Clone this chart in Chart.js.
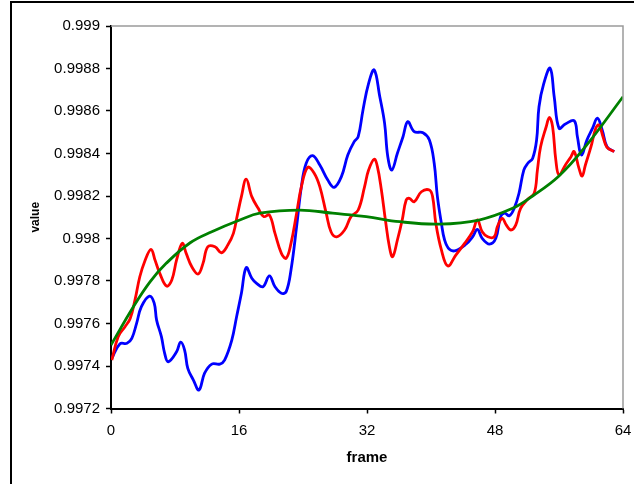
<!DOCTYPE html>
<html>
<head>
<meta charset="utf-8">
<script src="https://cdn.jsdelivr.net/npm/chart.js@4/dist/chart.umd.min.js"></script>
<style>
  html, body { margin: 0; padding: 0; background: #fff; }
  #wrap { width: 634px; height: 484px; position: relative; }
</style>
</head>
<body>
<div id="wrap"><canvas id="chart"></canvas></div>
<script>
    // values
    var xTicks = [0, 16, 32, 48, 64];
    var yTicks = [0.9972, 0.9974, 0.9976, 0.9978, 0.998, 0.9982, 0.9984, 0.9986, 0.9988, 0.999];

    var blueFrames = [0.1, 1.1, 2.0, 2.6, 3.2, 3.8, 4.8, 5.4, 5.7, 6.3, 6.7, 7.15, 8.2, 8.7, 9.2, 9.6, 10.3, 11.0, 11.7, 12.6,
        13.6, 14.2, 15.1, 15.7, 16.3, 16.9, 17.6, 18.2, 19.0, 19.8, 20.5, 21.3, 21.9, 22.5, 23.2, 23.8, 24.4, 25.2, 26.1, 27.1,
        27.9, 28.8, 29.6, 30.4, 30.9, 31.5, 32.2, 32.9, 33.6, 34.2, 34.6, 35.1, 35.8, 36.5, 37.1, 37.9, 39.0, 39.8, 40.4, 40.8,
        41.3, 41.7, 42.3, 43.1, 44.4, 45.2, 45.8, 46.4, 47.3, 48.1, 48.7, 49.2, 49.8, 50.4, 51.0, 51.6, 52.1, 52.7, 53.2, 53.5,
        54.1, 54.9, 55.4, 56.0, 56.8, 57.9, 58.3, 58.8, 59.5, 60.2, 60.8, 61.4, 62.0, 62.9];
    var blueValues = [0.997436, 0.997504, 0.997507, 0.99753, 0.997601, 0.997679, 0.997729, 0.997696, 0.997616, 0.997538,
        0.997461, 0.99742, 0.997467, 0.997512, 0.997475, 0.997389, 0.997334, 0.997287, 0.997366, 0.997409,
        0.997409, 0.997428, 0.997522, 0.997632, 0.997742, 0.997863, 0.997813, 0.997789, 0.997773, 0.997824,
        0.997773, 0.997742, 0.99775, 0.997852, 0.998056, 0.998244, 0.998354, 0.99839, 0.998346, 0.998275,
        0.998241, 0.998291, 0.998393, 0.998456, 0.998479, 0.998605, 0.99873, 0.998793, 0.998667, 0.998542,
        0.998385, 0.998322, 0.998401, 0.998479, 0.99855, 0.998503, 0.998498, 0.998464, 0.998354, 0.998197,
        0.998072, 0.997993, 0.997949, 0.997943, 0.997974, 0.998008, 0.998043, 0.998001, 0.997974, 0.998001,
        0.998103, 0.998119, 0.998107, 0.998142, 0.998213, 0.998322, 0.998354, 0.998377, 0.998464, 0.99862,
        0.99873, 0.998801, 0.998667, 0.998519, 0.998539, 0.998554, 0.998479, 0.998393, 0.998464, 0.998519,
        0.998566, 0.998511, 0.998432, 0.998409];

    var redFrames = [0.1, 0.9, 1.75, 2.4, 3.0, 3.6, 4.2, 5.0, 5.5, 6.1, 6.95, 7.6, 8.2, 8.9, 9.4, 10.1, 10.9, 11.5, 12.1, 13.0,
        13.8, 14.6, 15.3, 15.8, 16.3, 16.9, 17.6, 18.4, 19.1, 19.8, 20.5, 21.3, 21.9, 22.5, 23.2, 23.8, 24.6, 25.4, 26.1, 26.9,
        27.5, 28.2, 29.2, 30.0, 30.9, 31.7, 32.2, 32.9, 33.3, 33.8, 34.3, 34.8, 35.2, 35.8, 36.4, 36.9, 37.3, 37.9, 38.8, 39.8,
        40.2, 40.6, 41.3, 42.1, 43.1, 44.2, 45.2, 45.8, 46.4, 47.1, 47.9, 48.3, 48.9, 49.4, 50.0, 50.6, 51.2, 52.1, 52.9, 53.3,
        53.7, 54.4, 54.8, 55.2, 55.6, 56.0, 56.8, 57.5, 57.9, 58.5, 58.9, 59.3, 60.0, 60.6, 61.0, 61.5, 62.0, 62.9];
    var redValues = [0.997428, 0.997538, 0.997585, 0.997624, 0.997711, 0.99782, 0.997891, 0.997949, 0.997899, 0.997836,
        0.997776, 0.997805, 0.997899, 0.997977, 0.99793, 0.997867, 0.997833, 0.997883, 0.997961, 0.997961,
        0.997933, 0.997969, 0.998024, 0.998111, 0.998197, 0.998279, 0.998197, 0.998142, 0.998103, 0.998111,
        0.998024, 0.99793, 0.997907, 0.997977, 0.998119, 0.998244, 0.998335, 0.998307, 0.998244, 0.998119,
        0.998032, 0.998008, 0.99804, 0.998103, 0.998134, 0.998244, 0.998322, 0.998373, 0.998338, 0.998228,
        0.998087, 0.997961, 0.997914, 0.997993, 0.998087, 0.998181, 0.998189, 0.998173, 0.99822, 0.998228,
        0.998197, 0.998072, 0.997946, 0.997871, 0.997922, 0.997977, 0.998032, 0.998087, 0.998032, 0.998008,
        0.998008, 0.998056, 0.998095, 0.998064, 0.99804, 0.998064, 0.998142, 0.998185, 0.998213, 0.998322,
        0.998432, 0.998526, 0.99857, 0.998526, 0.99837, 0.998299, 0.998346, 0.998385, 0.998409, 0.99833,
        0.998294, 0.998346, 0.998432, 0.998519, 0.998534, 0.998479, 0.998429, 0.998409];

    var greenFrames = [0, 2.8, 4.9, 6.9, 9.9, 12.6, 16.1, 18.6, 23.6, 27.7, 31.9, 36.1, 41.0, 46.0, 50.2, 52.7, 56.0, 59.3, 64];
    var greenValues = [0.997499, 0.997679, 0.997797, 0.997883, 0.99798, 0.998032, 0.998087, 0.998119, 0.998134, 0.998119,
        0.998103, 0.998079, 0.998068, 0.998087, 0.998142, 0.9982, 0.998294, 0.998432, 0.998667];

    function points(xs, ys) {
        return xs.map(function (x, i) { return { x: x, y: ys[i] }; });
    }

    function series(label, xs, ys, color) {
        return {
            label: label,
            data: points(xs, ys),
            borderColor: color,
            borderWidth: 2.8,
            pointRadius: 0,
            tension: 0.4,
            fill: false
        };
    }

    var frame = {
        id: 'frame',
        beforeDraw: function (chart) {
            var ctx = chart.ctx;
            ctx.save();
            ctx.fillStyle = '#fff';
            ctx.fillRect(0, 0, chart.width, chart.height);
            ctx.fillStyle = '#000';
            ctx.fillRect(10, 1, 2, chart.height);
            ctx.fillRect(10, 1, chart.width - 10, 2);
            ctx.restore();
        },
        afterDatasetsDraw: function (chart) {
            var a = chart.chartArea;
            var ctx = chart.ctx;
            ctx.save();
            ctx.strokeStyle = '#9a9a9a';
            ctx.lineWidth = 1.5;
            ctx.beginPath();
            ctx.moveTo(a.left, a.top);
            ctx.lineTo(a.right, a.top);
            ctx.lineTo(a.right, a.bottom);
            ctx.stroke();
            ctx.restore();
        }
    };

    new Chart(document.getElementById('chart'), {
        type: 'line',
        data: {
            datasets: [
                series('fit', greenFrames, greenValues, '#008000'),
                series('red', redFrames, redValues, '#ff0000'),
                series('blue', blueFrames, blueValues, '#0000ff')
            ]
        },
        options: {
            responsive: true,
            maintainAspectRatio: false,
            animation: false,
            layout: { autoPadding: false, padding: { left: 12, top: 26, right: 11, bottom: 0 } },
            plugins: { legend: { display: false }, tooltip: { enabled: false } },
            scales: {
                x: {
                    type: 'linear',
                    min: 0,
                    max: 64,
                    afterFit: function (s) { s.height = 75.5; s.paddingLeft = 0; s.paddingRight = 0; },
                    afterBuildTicks: function (s) { s.ticks = xTicks.map(function (v) { return { value: v }; }); },
                    grid: { drawOnChartArea: false, color: '#000', tickLength: 5, tickWidth: 1.5 },
                    border: { color: '#000', width: 2 },
                    ticks: { color: '#000', padding: 8, maxRotation: 0, font: { family: 'Liberation Sans, Arial', size: 15 } },
                    title: {
                        display: true, text: 'frame', color: '#000',
                        padding: { top: 0, bottom: 17 },
                        font: { family: 'Liberation Sans, Arial', size: 15, weight: 'bold' }
                    }
                },
                y: {
                    min: 0.9972,
                    max: 0.999,
                    afterFit: function (s) { s.width = 99; s.paddingTop = 0; s.paddingBottom = 0; },
                    afterBuildTicks: function (s) { s.ticks = yTicks.map(function (v) { return { value: v }; }); },
                    grid: { drawOnChartArea: false, color: '#000', tickLength: 5, tickWidth: 1.5 },
                    border: { color: '#000', width: 2 },
                    ticks: {
                        color: '#000', padding: 6,
                        font: { family: 'Liberation Sans, Arial', size: 15 },
                        callback: function (v) { return String(Number(v.toFixed(4))); }
                    },
                    title: {
                        display: true, text: 'value', color: '#000',
                        padding: { top: 16, bottom: 0 },
                        font: { family: 'Liberation Sans, Arial', size: 12, weight: 'bold' }
                    }
                }
            }
        },
        plugins: [frame]
    });
</script>
</body>
</html>
